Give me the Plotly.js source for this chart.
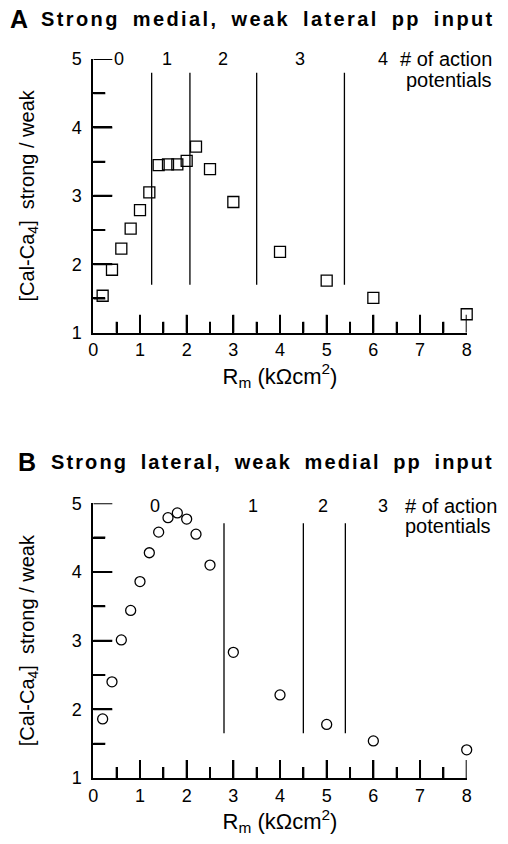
<!DOCTYPE html>
<html>
<head>
<meta charset="utf-8">
<script src="https://cdn.plot.ly/plotly-3.0.1.min.js"></script>
<style>
html,body{margin:0;padding:0;background:#fff;}
#chart{width:508px;height:844px;}
</style>
</head>
<body>
<div id="chart"></div>
<script>
// ---- Data ----
const rmA = [0.2, 0.4, 0.6, 0.8, 1.0, 1.2, 1.4, 1.6, 1.8, 2.0, 2.2, 2.5, 3, 4, 5, 6, 8];
const ratioA = [1.54, 1.92, 2.23, 2.52, 2.79, 3.05, 3.45, 3.46, 3.46, 3.51, 3.72, 3.39, 2.91, 2.18, 1.76, 1.51, 1.27];
const rmB = [0.2, 0.4, 0.6, 0.8, 1.0, 1.2, 1.4, 1.6, 1.8, 2.0, 2.2, 2.5, 3, 4, 5, 6, 8];
const ratioB = [1.86, 2.40, 3.01, 3.44, 3.86, 4.28, 4.58, 4.79, 4.86, 4.77, 4.55, 4.10, 2.83, 2.21, 1.78, 1.54, 1.41];

// boundaries between numbers of action potentials (Rm values)
const boundsA = [1.25, 2.07, 3.5, 5.38];
const boundSpanA = [1.70, 4.80];
const boundsB = [2.8, 4.5, 5.4];
const boundSpanB = [1.65, 4.71];

// number-of-action-potential labels and their Rm positions
const apLabelsA = ['0', '1', '2', '3', '4'];
const apPosA = [0.55, 1.58, 2.78, 4.43, 6.2];
const apLabelsB = ['0', '1', '2', '3'];
const apPosB = [1.32, 3.43, 4.93, 6.21];

const titleA = 'Strong medial, weak lateral pp input';
const titleB = 'Strong lateral, weak medial pp input';
const legendLines = ['# of action', 'potentials'];
const xTitle = 'R<sub>m</sub> (kΩcm<sup>2</sup>)';
const yTitle = '[Cal-Ca<sub>4</sub>]\u00a0\u00a0strong / weak';

// ---- build ----
const FONT = 'Liberation Sans, Arial, Helvetica, sans-serif';
function boundTrace(bounds, span, xa, ya) {
  const x = [], y = [];
  bounds.forEach(b => { x.push(b, b, null); y.push(span[0], span[1], null); });
  return {x, y, xaxis: xa, yaxis: ya, mode: 'lines', type: 'scatter',
          line: {color: 'black', width: 1.3}, hoverinfo: 'skip', showlegend: false};
}
const traces = [
  {x: rmA, y: ratioA, xaxis: 'x', yaxis: 'y', mode: 'markers', type: 'scatter', cliponaxis: false,
   marker: {symbol: 'square-open', size: 11, color: 'black', line: {width: 1.3, color: 'black'}}, showlegend: false},
  boundTrace(boundsA, boundSpanA, 'x', 'y'),
  {x: rmB, y: ratioB, xaxis: 'x2', yaxis: 'y2', mode: 'markers', type: 'scatter', cliponaxis: false,
   marker: {symbol: 'circle-open', size: 10, color: 'black', line: {width: 1.3, color: 'black'}}, showlegend: false},
  boundTrace(boundsB, boundSpanB, 'x2', 'y2')
];

function xaxis(anchor) {
  return {anchor, domain: [0.1837, 0.9187], range: [0, 8], showline: true, linewidth: 2, linecolor: 'black',
    ticks: 'inside', ticklen: 18, tickwidth: 2, tickcolor: 'black', tick0: 0, dtick: 1,
    minor: {dtick: 0.5, ticks: 'inside', ticklen: 11, tickwidth: 2, tickcolor: 'black', showgrid: false},
    showgrid: false, zeroline: false, tickfont: {family: FONT, size: 18, color: 'black'},
    title: {text: xTitle, font: {family: FONT, size: 22, color: 'black'}, standoff: 6}, fixedrange: true};
}
function yaxis(anchor, domain) {
  return {anchor, domain, range: [1, 5], showline: true, linewidth: 2, linecolor: 'black',
    ticks: 'inside', ticklen: 19, tickwidth: 2, tickcolor: 'black', tick0: 1, dtick: 1, ticksuffix: '\u2004',
    minor: {dtick: 0.5, ticks: 'inside', ticklen: 12, tickwidth: 2, tickcolor: 'black', showgrid: false},
    showgrid: false, zeroline: false, tickfont: {family: FONT, size: 18, color: 'black'},
    title: {text: yTitle, font: {family: FONT, size: 20, color: 'black'}, standoff: 32}, fixedrange: true};
}

// tick marks also laid down in data space on each axis (major every 1, minor every 0.5)
function tickShapes(xa, ya) {
  const s = [];
  const line = {color: 'black', width: 2};
  for (let v = 0.5; v <= 8.001; v += 0.5) {
    const major = Math.abs(v - Math.round(v)) < 1e-6;
    s.push({type: 'line', xref: xa, yref: ya, x0: v, x1: v, y0: 1, y1: 1 + (major ? 0.263 : 0.161), line, layer: 'above'});
  }
  for (let v = 1.5; v <= 5.001; v += 0.5) {
    const major = Math.abs(v - Math.round(v)) < 1e-6;
    s.push({type: 'line', xref: xa, yref: ya, x0: 0, x1: major ? 0.407 : 0.257, y0: v, y1: v, line, layer: 'above'});
  }
  return s;
}

const annotations = [];
const spaced = [];
function addPanel(letter, title, yTop, letterX, titleX, spacing, labels, pos, xa, ya, apY, legend) {
  annotations.push({xref: 'paper', yref: 'paper', x: letterX / 508, y: 1 - yTop / 844, xanchor: 'left', yanchor: 'middle',
    text: '<b>' + letter + '</b>', showarrow: false, font: {family: FONT, size: 25, color: 'black'}});
  spaced.push([annotations.length, spacing]);
  annotations.push({xref: 'paper', yref: 'paper', x: titleX / 508, y: 1 - yTop / 844, xanchor: 'left', yanchor: 'middle',
    align: 'left', text: '<b>' + title + '</b>', showarrow: false, font: {family: FONT, size: 20, color: 'black'}});
  labels.forEach((t, i) => annotations.push({xref: xa, yref: ya, x: pos[i], y: apY, text: t, showarrow: false,
    xanchor: 'center', yanchor: 'middle', font: {family: FONT, size: 18, color: 'black'}}));
  legendLines.forEach((t, i) => annotations.push(Object.assign({text: t, showarrow: false, yanchor: 'middle',
    font: {family: FONT, size: 20, color: 'black'}}, legend[i])));
}
addPanel('A', titleA, 19, 8, 39, 2.4, apLabelsA, apPosA, 'x', 'y', 5.0, [
  {xref: 'paper', yref: 'y', x: 494 / 508, y: 5.0, xanchor: 'right'},
  {xref: 'paper', yref: 'y', x: 494 / 508, y: 4.70, xanchor: 'right'}]);
addPanel('B', titleB, 462, 16, 49, 2.1, apLabelsB, apPosB, 'x2', 'y2', 4.96, [
  {xref: 'x2', yref: 'y2', x: 6.63, y: 4.96, xanchor: 'left'},
  {xref: 'x2', yref: 'y2', x: 6.63, y: 4.67, xanchor: 'left'}]);

const layout = {
  width: 508, height: 844, autosize: false,
  margin: {l: 0, r: 0, t: 0, b: 0},
  paper_bgcolor: 'white', plot_bgcolor: 'white',
  font: {family: FONT, color: 'black'},
  showlegend: false,
  xaxis: xaxis('y'),
  yaxis: yaxis('x', [0.6058, 0.9301]),
  xaxis2: xaxis('y2'),
  yaxis2: yaxis('x2', [0.0782, 0.4037]),
  shapes: tickShapes('x', 'y').concat(tickShapes('x2', 'y2')),
  annotations
};

Plotly.newPlot('chart', traces, layout, {displayModeBar: false, staticPlot: true}).then(gd => {
  // letter/word spacing of the panel headings, as typeset in the reference (left-aligned, so safe after layout)
  spaced.forEach(([i, s]) => {
    gd.querySelectorAll('g.annotation[data-index="' + i + '"] text').forEach(t => {
      t.style.letterSpacing = s + 'px';
      t.style.wordSpacing = '5px';
    });
  });
});
</script>
</body>
</html>
